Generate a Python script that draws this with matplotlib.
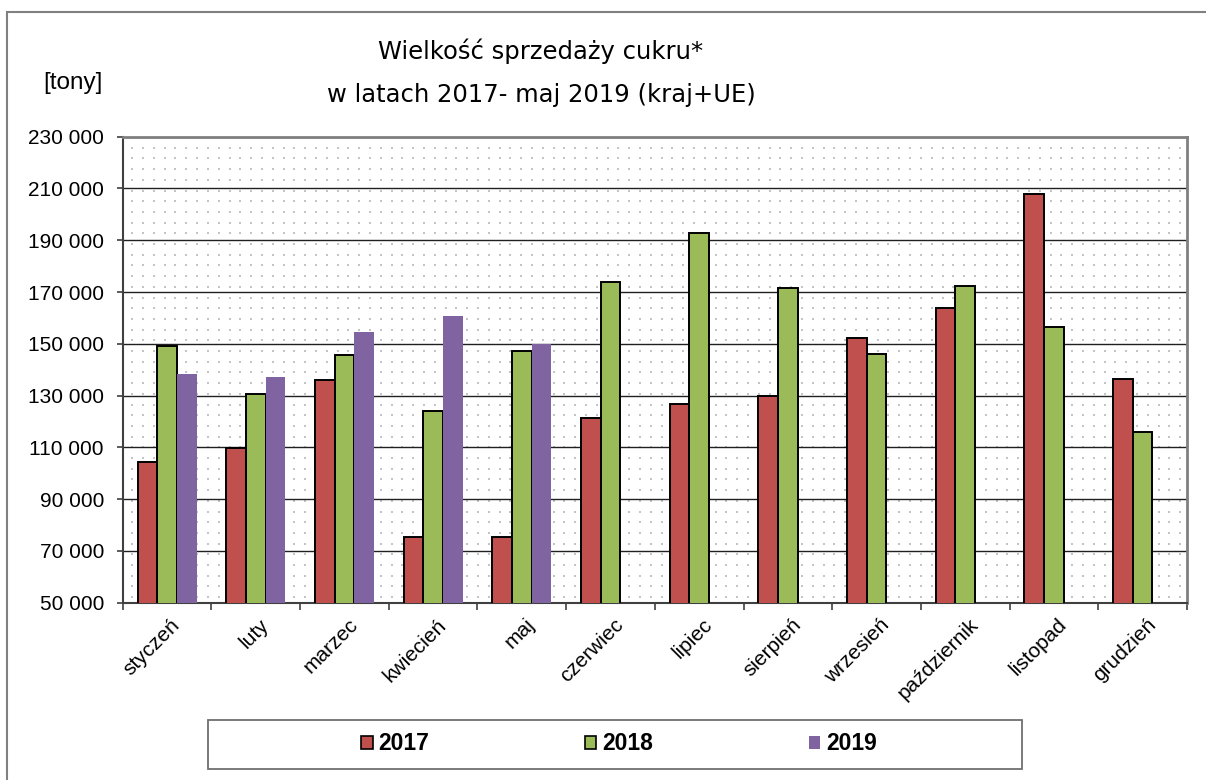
import matplotlib
matplotlib.use('Agg')
import matplotlib.pyplot as plt
from matplotlib.patches import Rectangle, Patch
from matplotlib.ticker import FuncFormatter
import numpy as np

MONTHS = ["styczeń", "luty", "marzec", "kwiecień", "maj", "czerwiec", "lipiec",
          "sierpień", "wrzesień", "październik", "listopad", "grudzień"]
SALES_2017 = [104200, 109900, 136100, 75400, 75400, 121500, 126600,
              129700, 152200, 163800, 208000, 136400]
SALES_2018 = [149300, 130700, 145800, 123900, 147200, 174000, 192900,
              171500, 146200, 172200, 156600, 116000]
SALES_2019 = [138200, 137000, 154500, 160600, 149900]

RED = '#C0504D'
GREEN = '#9BBB59'
PURPLE = '#8064A2'

plt.rcParams['font.family'] = ['Liberation Sans', 'DejaVu Sans']

W, H = 1206, 780
fig = plt.figure(figsize=(W / 100, H / 100), dpi=100)
ax = fig.add_axes([122.7 / W, 1 - 602.7 / H, (1187 - 122.7) / W, (602.7 - 136.7) / H])

# outer frame of the chart object
fig.patches.append(Rectangle((6.7 / W, -0.2), 1.2, 1.2 - 11.7 / H,
                             transform=fig.transFigure, fill=False,
                             edgecolor='#808080', lw=1.5, clip_on=False))

x = np.arange(len(MONTHS))
bw = 0.222
ax.bar(x - bw, SALES_2017, width=bw, color=RED, edgecolor='black', lw=1.4, zorder=3)
ax.bar(x, SALES_2018, width=bw, color=GREEN, edgecolor='black', lw=1.4, zorder=3)
ax.bar(x[:len(SALES_2019)] + bw, SALES_2019, width=bw, color=PURPLE, edgecolor='none', zorder=3)

ax.set_xlim(-0.5, len(MONTHS) - 0.5)
ax.set_ylim(50000, 230000)
ax.set_yticks(np.arange(50000, 230001, 20000))
ax.yaxis.set_major_formatter(FuncFormatter(lambda v, p: f"{int(v):,}".replace(",", " ")))
ax.yaxis.grid(True, color='#202020', lw=1.0, zorder=1)
ax.set_axisbelow(True)

# dotted background texture
gx, gy = np.meshgrid(np.arange(0.009, 1, 10.8 / 1064), np.arange(0.012, 1, 10.7 / 466))
ax.scatter(gx.ravel(), gy.ravel(), s=1.6, marker='s', color='#c4c4c4', lw=0,
           transform=ax.transAxes, zorder=0.5)

ax.set_xticks(x + 0.04)
ax.set_xticklabels(MONTHS, rotation=45, ha='right', rotation_mode='anchor', fontsize=15)
ax.tick_params(axis='x', which='major', length=0, pad=9)
ax.set_xticks(np.arange(-0.5, len(MONTHS)), minor=True)
ax.tick_params(axis='x', which='minor', length=5, width=1.2, direction='out', color='#404040')
ax.tick_params(axis='y', length=4.5, width=1.2, direction='out', color='#404040', labelsize=15, pad=9)

for side in ['top', 'right']:
    ax.spines[side].set_color('#808080')
    ax.spines[side].set_linewidth(2)
ax.spines['left'].set_color('#404040')
ax.spines['left'].set_linewidth(1.5)
ax.spines['bottom'].set_color('#404040')
ax.spines['bottom'].set_linewidth(1.5)

fig.text(541 / W, 1 - 59 / H, "Wielkość sprzedaży cukru*", ha='center', va='baseline',
         fontsize=17.5, family='DejaVu Sans')
fig.text(541 / W, 1 - 102 / H, "w latach 2017- maj 2019 (kraj+UE)", ha='center', va='baseline',
         fontsize=17.5, family='DejaVu Sans')
fig.text(43 / W, 1 - 83 / H, "[tony]", ha='left', va='center', fontsize=17.5)

# legend box
fig.patches.append(Rectangle((207.7 / W, 1 - 769 / H), 814 / W, 49 / H,
                             transform=fig.transFigure, facecolor='white',
                             edgecolor='#707070', lw=1.3))
handles = [Patch(facecolor=RED, edgecolor='black', lw=1.2),
           Patch(facecolor=GREEN, edgecolor='black', lw=1.2),
           Patch(facecolor=PURPLE, edgecolor='none')]
fig.legend(handles, ["2017", "2018", "2019"], loc='center', ncol=3, frameon=False,
           bbox_to_anchor=(619 / W, 1 - 744 / H), prop={'weight': 'bold', 'size': 16.5},
           handlelength=0.5, handleheight=0.5, handletextpad=0.25, columnspacing=6.8)

fig.savefig('out.png', dpi=100)
